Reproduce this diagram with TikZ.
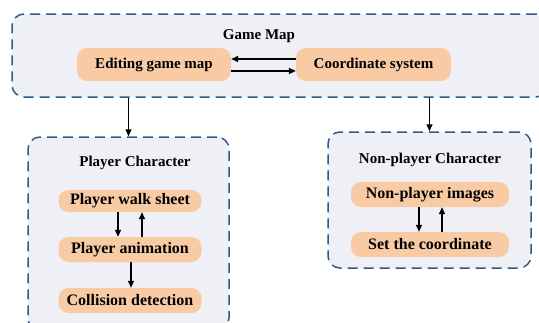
\documentclass[tikz,border=0pt]{standalone}
\usepackage{fontspec}
\setmainfont{Liberation Serif}
\usetikzlibrary{arrows.meta}
\definecolor{cajafondo}{HTML}{EEF0F5}
\definecolor{cajaborde}{HTML}{2F5A8A}
\definecolor{pildora}{HTML}{F8CBA4}
\tikzset{
  caja/.style={draw=cajaborde,fill=cajafondo,line width=1.5pt,dash pattern=on 10pt off 6pt,rounded corners=12pt,inner sep=0pt},
  pill/.style={fill=pildora,rounded corners=10pt,font=\bfseries\fontsize{16}{18}\selectfont,inner sep=0pt},
  titulo/.style={font=\bfseries\fontsize{15}{17}\selectfont},
  flecha/.style={line width=1.4pt,-{Triangle[length=7pt,width=6pt]}}
}
\begin{document}
\begin{tikzpicture}[x=1pt,y=-1pt]
    \useasboundingbox (0,0) rectangle (539,322);
    % contenedores
    \node[caja,minimum width=536pt,minimum height=83pt] (gm) at (280,55.5) {};
    \node[caja,minimum width=201pt,minimum height=193pt] (pc) at (128.5,233.5) {};
    \node[caja,minimum width=203pt,minimum height=136pt] (npc) at (429.5,200) {};

    % titulos
    \node[titulo] (gmt) at (259,36) {Game Map};
    \node[titulo] (pct) at (135,163) {Player Character};
    \node[titulo] (npct) at (430,160) {Non-player Character};

    % pildoras
    \node[pill,font=\bfseries\fontsize{15}{17}\selectfont,minimum width=154pt,minimum height=33pt] (eg) at (154,64.5) {Editing game map};
    \node[pill,font=\bfseries\fontsize{15}{17}\selectfont,minimum width=155pt,minimum height=33pt] (cs) at (373.5,64.5) {Coordinate system};
    \node[pill,minimum width=143pt,minimum height=22pt] (ws) at (130,201) {Player walk sheet};
    \node[pill,minimum width=143pt,minimum height=25pt] (pa) at (130,249.5) {Player animation};
    \node[pill,minimum width=143pt,minimum height=25pt] (cd) at (130,300.5) {Collision detection};
    \node[pill,minimum width=158pt,minimum height=25pt] (ni) at (430,194.5) {Non-player images};
    \node[pill,minimum width=158pt,minimum height=25pt] (sc) at (430,244.5) {Set the coordinate};

    % flechas
    \draw[flecha] ([yshift=5.5pt]cs.west) -- ([yshift=5.5pt]eg.east);
    \draw[flecha] ([yshift=-6.5pt]eg.east) -- ([yshift=-6.5pt]cs.west);
    \draw[flecha] (gm.south -| pc.north) -- (pc.north);
    \draw[flecha] (gm.south -| npc.north) -- (npc.north);
    \draw[flecha] ([xshift=-12pt]ws.south) -- ([xshift=-12pt]pa.north);
    \draw[flecha] ([xshift=12pt]pa.north) -- ([xshift=12pt]ws.south);
    \draw[flecha] ([xshift=1pt]pa.south) -- ([xshift=1pt]cd.north);
    \draw[flecha] ([xshift=-11pt]ni.south) -- ([xshift=-11pt]sc.north);
    \draw[flecha] ([xshift=12pt]sc.north) -- ([xshift=12pt]ni.south);
\end{tikzpicture}
\end{document}
